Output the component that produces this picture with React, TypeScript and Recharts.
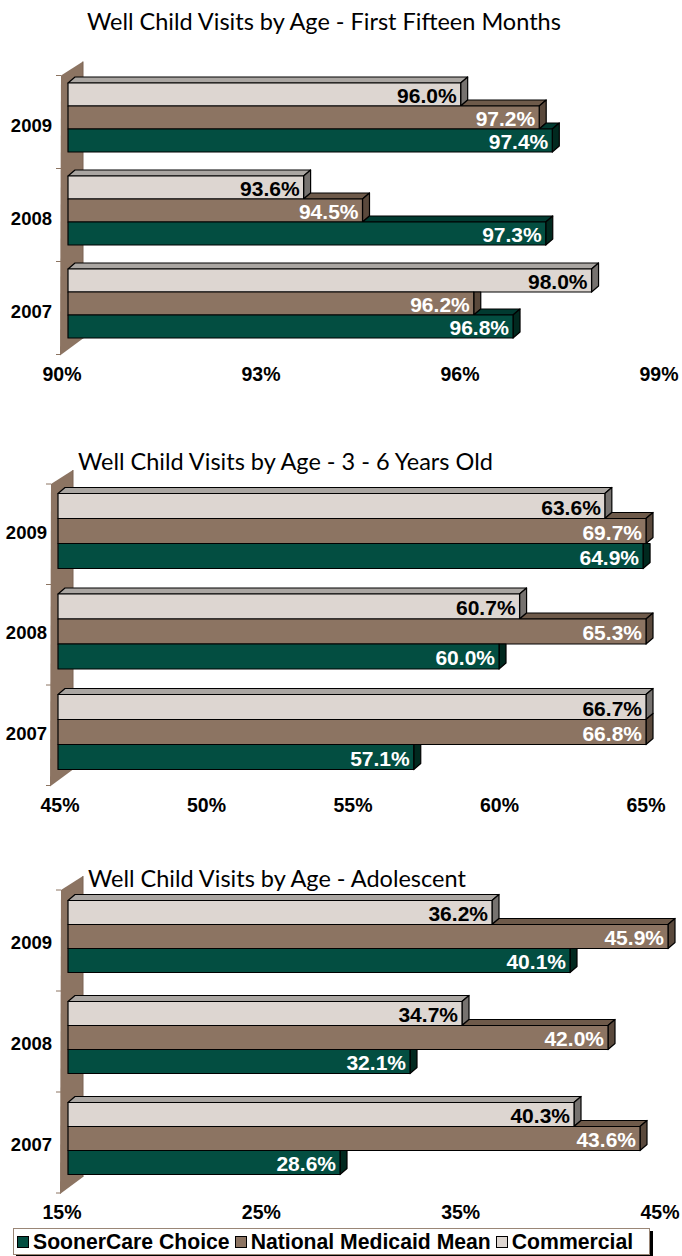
import React from "react";
import { BarChart, Bar, XAxis, YAxis, LabelList } from "recharts";

// ---- data ----
const years = ["2009", "2008", "2007"];

const soonerInfant = [97.4, 97.3, 96.8];
const nationalInfant = [97.2, 94.5, 96.2];
const commercialInfant = [96.0, 93.6, 98.0];
const ticksInfant = [90, 93, 96, 99];

const soonerChild = [64.9, 60.0, 57.1];
const nationalChild = [69.7, 65.3, 66.8];
const commercialChild = [63.6, 60.7, 66.7];
const ticksChild = [45, 50, 55, 60, 65];

const soonerTeen = [40.1, 32.1, 28.6];
const nationalTeen = [45.9, 42.0, 43.6];
const commercialTeen = [36.2, 34.7, 40.3];
const ticksTeen = [15, 25, 35, 45];

const legendItems = [
  { name: "SoonerCare Choice", color: "#034e41" },
  { name: "National Medicaid Mean", color: "#8c7462" },
  { name: "Commercial", color: "#ddd6d1" },
];

type Row = { year: string; sooner: number; national: number; commercial: number };

const makeRows = (s: number[], n: number[], c: number[]): Row[] =>
  years.map((year, i) => ({ year, sooner: s[i], national: n[i], commercial: c[i] }));

const FONT = '"Liberation Sans", Arial, sans-serif';
const DX = 7;
const DY = 6;
const AXIS_H = 40;

// drawn top to bottom inside each year
const series = [
  { key: "commercial", upper: null, face: "#ddd6d1", top: "#aaa6a2", side: "#76726f", text: "#000" },
  { key: "national", upper: "commercial", face: "#8c7462", top: "#6e5a4a", side: "#5a493c", text: "#fff" },
  { key: "sooner", upper: "national", face: "#034e41", top: "#013a30", side: "#01291f", text: "#fff" },
];

// 3d-looking bar: front face, top face (only the part not hidden by the bar above), right side
function Bar3D(props: any) {
  const { x, y, width, height, payload, seriesKey, upperKey, domain, face, top, side } = props;
  if (width == null || height == null || !payload) return null;
  const [min, max] = domain;
  const clip = (v: number) => Math.min(Math.max(v, min), max);
  const own = clip(payload[seriesKey]) - min;
  const ppu = own > 0 ? width / own : 0;
  const right = x + width;
  let topStart = x;
  let upperRight = -Infinity;
  if (upperKey) {
    upperRight = x + (clip(payload[upperKey]) - min) * ppu;
    topStart = Math.max(x, upperRight);
  }
  const sideHidden = upperKey && upperRight > right;
  const sidePts = sideHidden
    ? `${right},${y} ${right + DX},${y} ${right + DX},${y + height - DY} ${right},${y + height}`
    : `${right},${y} ${right + DX},${y - DY} ${right + DX},${y + height - DY} ${right},${y + height}`;
  return (
    <g stroke="#000" strokeWidth={1.2} strokeLinejoin="round">
      {topStart < right && (
        <polygon
          points={`${topStart},${y} ${topStart + DX},${y - DY} ${right + DX},${y - DY} ${right},${y}`}
          fill={top}
        />
      )}
      <polygon points={sidePts} fill={side} />
      <rect x={x} y={y} width={width} height={height} fill={face} />
    </g>
  );
}

type BlockProps = {
  top: number;
  height: number;
  title: string;
  titleX: number;
  titleY: number;
  rows: Row[];
  domain: [number, number];
  ticks: number[];
  left: number;
  right: number;
  plotTop: number;
  gap: number;
  tickShift: [number, number];
  yearX: number;
  yearDy: number;
};

function ChartBlock(p: BlockProps) {
  const [min, max] = p.domain;
  const plotBottom = p.height - AXIS_H;
  const pitch = (plotBottom - p.plotTop) / p.rows.length;
  const L = p.left;
  const wall = `${L - 7},${p.plotTop + 4} ${L + 15},${p.plotTop - 10} ${L + 15},${plotBottom - 12} ${L - 8},${plotBottom + 5}`;

  return (
    <div style={{ position: "absolute", left: 0, top: p.top, width: 682, height: p.height }}>
      <svg width={682} height={p.height} style={{ position: "absolute", left: 0, top: 0 }}>
        <text x={p.titleX} y={p.titleY} fontFamily="Lato, 'Open Sans', sans-serif" fontSize={23.5} fill="#000">
          {p.title}
        </text>
        <polygon points={wall} fill="#8c7462" />
        <line x1={L + 15} y1={p.plotTop - 10} x2={L + 15} y2={plotBottom - 12} stroke="#7a6353" strokeWidth={1} />
        {[0, 1, 2, 3].map((k) => (
          <line
            key={k}
            x1={L - 12}
            x2={L - 7}
            y1={p.plotTop + 4 + pitch * k}
            y2={p.plotTop + 4 + pitch * k}
            stroke="#8c7462"
            strokeWidth={1}
          />
        ))}
      </svg>
      <div style={{ position: "absolute", left: 0, top: 0 }}>
        <BarChart
          width={682}
          height={p.height}
          data={p.rows}
          layout="vertical"
          margin={{ top: p.plotTop, right: p.right, left: 0, bottom: 0 }}
          barGap={0}
          barCategoryGap={p.gap}
        >
          <XAxis
            type="number"
            domain={p.domain}
            ticks={p.ticks}
            height={AXIS_H}
            axisLine={false}
            tickLine={false}
            tick={(t: any) => {
              const v = t.payload.value;
              const f = (v - min) / (max - min);
              const shift = p.tickShift[0] + (p.tickShift[1] - p.tickShift[0]) * f;
              return (
                <text
                  x={t.x + shift}
                  y={plotBottom + 23}
                  textAnchor="middle"
                  dominantBaseline="central"
                  fontFamily={FONT}
                  fontWeight="bold"
                  fontSize={19.5}
                  fill="#000"
                >
                  {v}%
                </text>
              );
            }}
          />
          <YAxis
            type="category"
            dataKey="year"
            width={L}
            axisLine={false}
            tickLine={false}
            tick={(t: any) => (
              <text
                x={p.yearX}
                y={t.y + p.yearDy}
                textAnchor="end"
                dominantBaseline="central"
                fontFamily={FONT}
                fontWeight="bold"
                fontSize={18.5}
                fill="#000"
              >
                {t.payload.value}
              </text>
            )}
          />
          {series.map((s) => (
            <Bar
              key={s.key}
              dataKey={(d: any) => Math.min(d[s.key], max)}
              isAnimationActive={false}
              shape={(sp: any) => (
                <Bar3D
                  {...sp}
                  seriesKey={s.key}
                  upperKey={s.upper}
                  domain={p.domain}
                  face={s.face}
                  top={s.top}
                  side={s.side}
                />
              )}
            >
              <LabelList
                content={(lp: any) => {
                  const vb = lp.viewBox || lp;
                  const row = p.rows[lp.index];
                  if (!row || vb.x == null) return null;
                  const raw = (row as any)[s.key] as number;
                  return (
                    <text
                      x={vb.x + vb.width - 4}
                      y={vb.y + vb.height / 2 + 1}
                      textAnchor="end"
                      dominantBaseline="central"
                      fontFamily={FONT}
                      fontWeight="bold"
                      fontSize={21}
                      fill={s.text}
                    >
                      {raw.toFixed(1)}%
                    </text>
                  );
                }}
              />
            </Bar>
          ))}
        </BarChart>
      </div>
    </div>
  );
}

export default function App() {
  return (
    <div style={{ position: "absolute", left: 0, top: 0, width: 682, height: 1256, background: "#fff", overflow: "hidden" }}>
      <ChartBlock
        top={0}
        height={390.5}
        title="Well Child Visits by Age - First Fifteen Months"
        titleX={87}
        titleY={30}
        rows={makeRows(soonerInfant, nationalInfant, commercialInfant)}
        domain={[90, 99]}
        ticks={ticksInfant}
        left={68}
        right={25}
        plotTop={71.5}
        gap={11.5}
        tickShift={[-6, 2]}
        yearX={52}
        yearDy={7}
      />
      <ChartBlock
        top={400}
        height={421.5}
        title="Well Child Visits by Age - 3 - 6 Years Old"
        titleX={78}
        titleY={70}
        rows={makeRows(soonerChild, nationalChild, commercialChild)}
        domain={[45, 65]}
        ticks={ticksChild}
        left={58}
        right={36}
        plotTop={80}
        gap={13.5}
        tickShift={[2, 0]}
        yearX={47}
        yearDy={2}
      />
      <ChartBlock
        top={820}
        height={409}
        title="Well Child Visits by Age - Adolescent"
        titleX={88}
        titleY={67}
        rows={makeRows(soonerTeen, nationalTeen, commercialTeen)}
        domain={[15, 45]}
        ticks={ticksTeen}
        left={68}
        right={14}
        plotTop={66}
        gap={14.5}
        tickShift={[-6, -8]}
        yearX={52}
        yearDy={6}
      />
      <div
        style={{
          position: "absolute",
          left: 13,
          top: 1228,
          width: 635,
          height: 25,
          border: "1px solid #9a8676",
          boxShadow: "3px 3px 0 #000",
          background: "#fff",
          display: "flex",
          alignItems: "center",
          fontFamily: FONT,
          fontWeight: "bold",
          fontSize: 21.2,
          whiteSpace: "nowrap",
        }}
      >
        {legendItems.map((it) => (
          <div key={it.name} style={{ display: "flex", alignItems: "center", marginLeft: 3, marginRight: 2 }}>
            <span
              style={{
                display: "inline-block",
                width: 10,
                height: 10,
                background: it.color,
                border: "1px solid #000",
                marginRight: 4,
              }}
            />
            <span>{it.name}</span>
          </div>
        ))}
      </div>
    </div>
  );
}
